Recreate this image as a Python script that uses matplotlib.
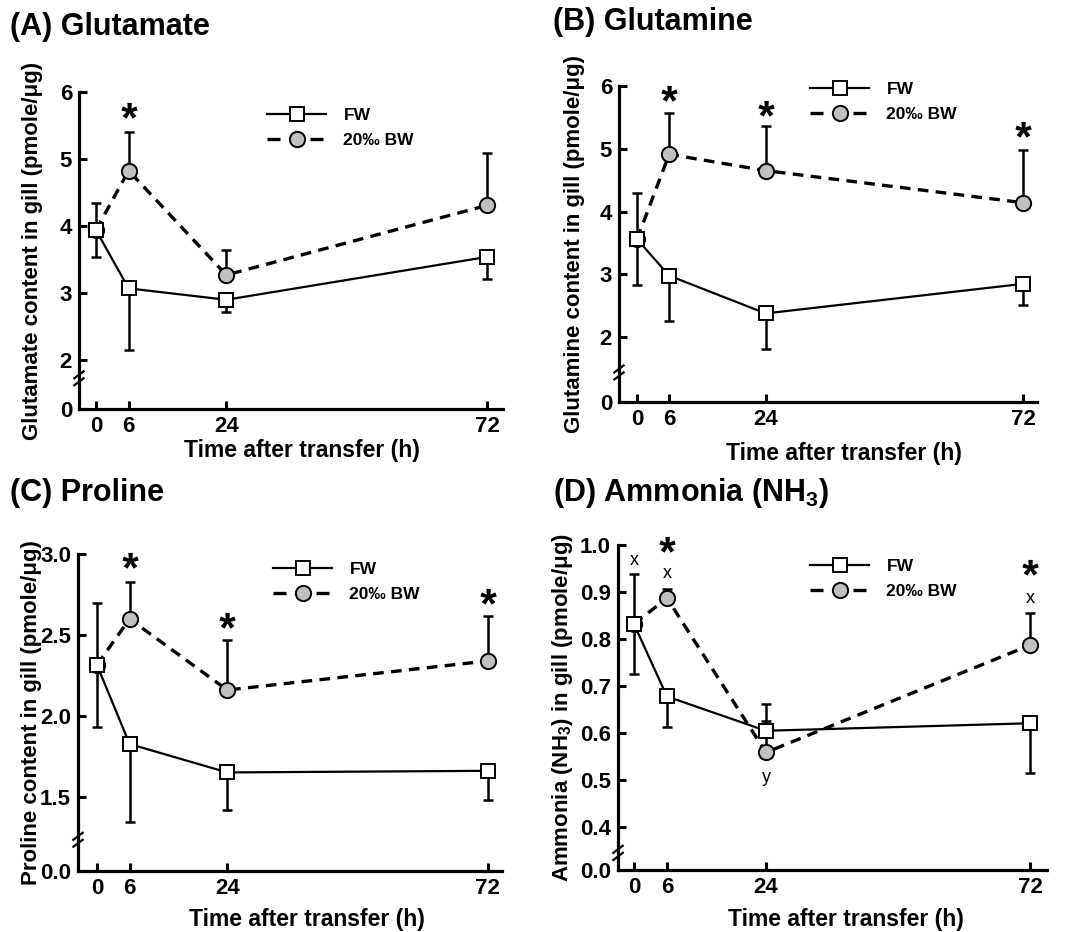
import numpy as np
import matplotlib
matplotlib.use("Agg")
import matplotlib.pyplot as plt
from matplotlib.lines import Line2D
from matplotlib.textpath import TextPath
from matplotlib.font_manager import FontProperties
from matplotlib.path import Path

plt.rcParams['font.family'] = ['Liberation Sans', 'DejaVu Sans']
plt.rcParams['font.weight'] = 'bold'
plt.rcParams['mathtext.fontset'] = 'custom'
plt.rcParams['mathtext.rm'] = 'Liberation Sans:bold'
plt.rcParams['mathtext.it'] = 'Liberation Sans:bold'
plt.rcParams['mathtext.bf'] = 'Liberation Sans:bold'
plt.rcParams['mathtext.default'] = 'rm'

# ---- data ----
hours = [0, 6, 24, 72]
xticklabels = ['0', '6', '24', '72']

# (A) glutamate
glu_fw = [3.94, 3.07, 2.90, 3.54]
glu_fw_lo = [0.40, 0.92, 0.19, 0.33]
glu_fw_hi = [0.40, 0, 0, 0]
glu_bw = [3.94, 4.83, 3.27, 4.31]
glu_bw_hi = [0, 0.58, 0.37, 0.79]
glu_stars = {6: 5.63}

# (B) glutamine
gln_fw = [3.56, 2.98, 2.38, 2.85]
gln_fw_lo = [0.73, 0.72, 0.57, 0.33]
gln_fw_hi = [0.74, 0, 0, 0]
gln_bw = [3.56, 4.91, 4.65, 4.14]
gln_bw_hi = [0, 0.66, 0.71, 0.84]
gln_stars = {6: 5.77, 24: 5.53, 72: 5.20}

# (C) proline
pro_fw = [2.315, 1.826, 1.65, 1.66]
pro_fw_lo = [0.385, 0.48, 0.23, 0.18]
pro_fw_hi = [0.385, 0, 0, 0]
pro_bw = [2.315, 2.60, 2.16, 2.34]
pro_bw_hi = [0, 0.23, 0.31, 0.28]
pro_stars = {6: 2.924, 24: 2.55, 72: 2.70}

# (D) ammonia
nh3_fw = [0.832, 0.678, 0.605, 0.621]
nh3_fw_lo = [0.106, 0.065, 0, 0.106]
nh3_fw_hi = [0.106, 0, 0.056, 0]
nh3_bw = [0.832, 0.887, 0.559, 0.787]
nh3_bw_hi = [0, 0.019, 0.066, 0.068]
nh3_stars = {6: 0.988, 72: 0.938}
nh3_letters = [(0, 0.966, 'x'), (6, 0.940, 'x'), (24, 0.506, 'y'), (72, 0.886, 'x')]

W, H = 1068, 932
fig = plt.figure(figsize=(W / 100, H / 100), dpi=100)

LAB = 16

# asterisk glyph as a marker path (Arial-like bold)
_tp = TextPath((0, 0), '*', prop=FontProperties(family='Liberation Sans', weight='bold'))
_v = _tp.vertices.copy()
_v -= (_v.min(axis=0) + _v.max(axis=0)) / 2
star_marker = Path(_v, _tp.codes)


def px_axes(left, right, top, bottom):
    return fig.add_axes([left / W, 1 - bottom / H, (right - left) / W, (bottom - top) / H])


def panel(box, xlim, ylim, yticks, yticklabels, fw, fw_lo, fw_hi, bw, bw_hi,
          stars, ylabel, ylab_x, xlab_xy, leg_xy, brk):
    ax = px_axes(*box)
    ax.set_xlim(*xlim)
    ax.set_ylim(*ylim)
    for s in ['top', 'right']:
        ax.spines[s].set_visible(False)
    for s in ['left', 'bottom']:
        ax.spines[s].set_linewidth(2.3)
    ax.set_xticks(hours)
    ax.set_xticklabels(xticklabels)
    ax.set_yticks(yticks)
    ax.set_yticklabels(yticklabels)
    ax.tick_params(direction='in', length=6, width=2.2, labelsize=LAB, pad=5)
    ax.tick_params(axis='x', pad=5)

    # error bars (drawn first, under markers)
    ax.errorbar(hours, fw, yerr=[fw_lo, fw_hi], fmt='none', ecolor='black',
                elinewidth=1.8, capsize=3.5, capthick=1.8, zorder=2)
    ax.errorbar(hours, bw, yerr=[np.zeros(4), bw_hi], fmt='none', ecolor='black',
                elinewidth=1.8, capsize=3.5, capthick=1.8, zorder=2)
    ax.plot(hours, bw, color='black', lw=2.4, dashes=(3.2, 2.2), marker='o',
            markersize=11, markerfacecolor='#c0c0c0', markeredgecolor='black',
            markeredgewidth=1.4, zorder=3)
    ax.plot(hours, fw, color='black', lw=1.6, marker='s', markersize=10,
            markerfacecolor='white', markeredgecolor='black', markeredgewidth=1.4,
            zorder=4)

    # significance asterisks
    ax.plot(list(stars.keys()), list(stars.values()), linestyle='none',
            marker=star_marker, markersize=21, color='black', markeredgewidth=0,
            zorder=5, clip_on=False)

    # axis break marks
    yb = yticks[1] - (yticks[1] - yticks[0]) * brk
    dy = (ylim[1] - ylim[0]) * 0.011
    dx = (xlim[1] - xlim[0]) * 0.011
    for off in (-dy, dy):
        ax.plot([xlim[0] - dx, xlim[0] + dx], [yb + off - dy, yb + off + dy],
                color='black', lw=1.6, clip_on=False, zorder=5)

    ax.set_ylabel(ylabel, fontsize=LAB, fontweight='bold')
    ax.yaxis.set_label_coords(ylab_x, 0.5)
    ax.set_xlabel('Time after transfer (h)', fontsize=16.5, fontweight='bold')
    ax.xaxis.set_label_coords(*xlab_xy)

    handles = [Line2D([], [], color='black', lw=1.6, marker='s', markersize=10,
                      markerfacecolor='white', markeredgecolor='black', markeredgewidth=1.4),
               Line2D([], [], color='black', lw=2.4, dashes=(3.9, 9.0), marker='o',
                      markersize=11, markerfacecolor='#c0c0c0', markeredgecolor='black',
                      markeredgewidth=1.4)]
    ax.legend(handles, ['FW', '20\u2030 BW'], loc='upper left',
              bbox_to_anchor=(leg_xy[0] / W, 1 - leg_xy[1] / H),
              bbox_transform=fig.transFigure, frameon=False, fontsize=12.5,
              handlelength=3.4, handletextpad=1.0, labelspacing=0.55,
              borderpad=0, borderaxespad=0)
    return ax


axA = panel((79, 503, 92.3, 409.3), (-3.13, 74.95), (1.263, 6),
            [1.263, 2, 3, 4, 5, 6], ['0', '2', '3', '4', '5', '6'],
            glu_fw, glu_fw_lo, glu_fw_hi, glu_bw, glu_bw_hi, glu_stars,
            'Glutamate content in gill (pmole/\u03bcg)', -0.085, (0.526, -0.093),
            (267, 108), 0.37)
axB = panel((619, 1037, 85.7, 402.3), (-3.36, 74.6), (0.967, 6),
            [0.967, 2, 3, 4, 5, 6], ['0', '2', '3', '4', '5', '6'],
            gln_fw, gln_fw_lo, gln_fw_hi, gln_bw, gln_bw_hi, gln_stars,
            'Glutamine content in gill (pmole/\u03bcg)', -0.082, (0.538, -0.125),
            (810, 82), 0.54)
axC = panel((78, 502, 554.3, 871), (-3.5, 74.6), (1.04, 3.0),
            [1.04, 1.5, 2.0, 2.5, 3.0], ['0.0', '1.5', '2.0', '2.5', '3.0'],
            pro_fw, pro_fw_lo, pro_fw_hi, pro_bw, pro_bw_hi, pro_stars,
            'Proline content in gill (pmole/\u03bcg)', -0.085, (0.54, -0.118),
            (273, 562), 0.58)
axD = panel((618, 1047, 545, 870), (-2.9, 75.1), (0.309, 1.0),
            [0.309, 0.4, 0.5, 0.6, 0.7, 0.8, 0.9, 1.0],
            ['0.0', '0.4', '0.5', '0.6', '0.7', '0.8', '0.9', '1.0'],
            nh3_fw, nh3_fw_lo, nh3_fw_hi, nh3_bw, nh3_bw_hi, nh3_stars,
            'Ammonia (NH$_3$) in gill (pmole/\u03bcg)', -0.1, (0.531, -0.116),
            (810, 559), 0.6)
for x, y, s in nh3_letters:
    axD.text(x, y, s, ha='center', va='center', fontsize=13, fontweight='normal')

# panel titles
fig.text(10 / W, 1 - 27 / H, '(A) Glutamate', fontsize=22, fontweight='bold', va='center')
fig.text(553 / W, 1 - 22 / H, '(B) Glutamine', fontsize=22, fontweight='bold', va='center')
fig.text(10 / W, 1 - 493 / H, '(C) Proline', fontsize=22, fontweight='bold', va='center')
fig.text(553 / W, 1 - 493 / H, '(D) Ammonia (NH$_3$)', fontsize=22, fontweight='bold', va='center')

fig.savefig('out.png', dpi=100)
